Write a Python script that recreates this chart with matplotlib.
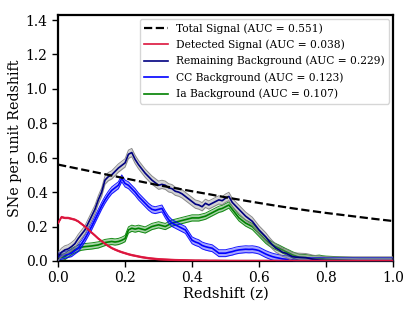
import numpy as np
import matplotlib
matplotlib.use('Agg')
import matplotlib.pyplot as plt

plt.rcParams['font.family'] = 'DejaVu Serif'

# redshift grid (step 0.01)
z = np.round(np.arange(0, 1.001, 0.01), 2)

# total signal read at 0.05 steps
z_total = np.round(np.arange(0, 1.001, 0.05), 2)
total = [0.56, 0.54, 0.52, 0.50, 0.48, 0.46, 0.44, 0.423, 0.405, 0.388, 0.37,
         0.353, 0.337, 0.321, 0.306, 0.292, 0.279, 0.267, 0.255, 0.243, 0.232]

detected = [0.22, 0.255, 0.25, 0.25, 0.245, 0.24, 0.23, 0.215, 0.20, 0.183,
            0.165, 0.148, 0.13, 0.115, 0.10, 0.087, 0.075, 0.066, 0.058, 0.051,
            0.045, 0.039, 0.034, 0.03, 0.026, 0.022, 0.019, 0.016, 0.014, 0.012,
            0.010, 0.009, 0.008, 0.007, 0.006, 0.005, 0.0045, 0.004, 0.0035, 0.003,
            0.0025, 0.002, 0.002, 0.0015, 0.0015, 0.001, 0.001, 0.001, 0.0008, 0.0006,
            0.0005]

remaining = [0.025, 0.05, 0.064, 0.07, 0.083, 0.10, 0.13, 0.155, 0.18, 0.22,
             0.26, 0.30, 0.355, 0.40, 0.47, 0.49, 0.50, 0.52, 0.54, 0.555,
             0.57, 0.62, 0.63, 0.59, 0.56, 0.535, 0.51, 0.49, 0.47, 0.455,
             0.44, 0.445, 0.44, 0.425, 0.42, 0.405, 0.40, 0.39, 0.375, 0.36,
             0.345, 0.33, 0.325, 0.315, 0.335, 0.325, 0.335, 0.345, 0.355, 0.35,
             0.365, 0.375, 0.34, 0.32, 0.30, 0.28, 0.26, 0.245, 0.23, 0.205,
             0.18, 0.16, 0.14, 0.115, 0.093, 0.075, 0.064, 0.05, 0.045, 0.035,
             0.025, 0.022, 0.021, 0.02, 0.019, 0.015, 0.01, 0.007, 0.005, 0.003]

cc = [0.025, 0.03, 0.035, 0.04, 0.045, 0.06, 0.074, 0.10, 0.13, 0.165,
      0.20, 0.24, 0.28, 0.32, 0.355, 0.385, 0.41, 0.425, 0.44, 0.48,
      0.45, 0.44, 0.42, 0.40, 0.375, 0.355, 0.335, 0.315, 0.30, 0.295,
      0.30, 0.305, 0.27, 0.24, 0.22, 0.21, 0.20, 0.19, 0.18, 0.15,
      0.12, 0.11, 0.103, 0.09, 0.083, 0.078, 0.074, 0.06, 0.045, 0.045,
      0.045, 0.05, 0.054, 0.06, 0.064, 0.066, 0.068, 0.067, 0.068, 0.065,
      0.06, 0.05, 0.04, 0.032, 0.025, 0.02, 0.016, 0.012, 0.01, 0.008,
      0.006, 0.003]

ia = [0.016, 0.02, 0.025, 0.04, 0.054, 0.065, 0.074, 0.08, 0.083, 0.085,
      0.087, 0.09, 0.093, 0.10, 0.107, 0.11, 0.113, 0.11, 0.113, 0.12,
      0.13, 0.18, 0.19, 0.185, 0.19, 0.185, 0.18, 0.19, 0.20, 0.205,
      0.21, 0.205, 0.20, 0.21, 0.22, 0.225, 0.23, 0.235, 0.24, 0.245,
      0.25, 0.25, 0.25, 0.255, 0.26, 0.27, 0.28, 0.29, 0.30, 0.305,
      0.315, 0.325, 0.30, 0.275, 0.25, 0.235, 0.22, 0.21, 0.20, 0.18,
      0.16, 0.14, 0.12, 0.105, 0.093, 0.083, 0.074, 0.064, 0.054, 0.045,
      0.035, 0.028, 0.021, 0.02, 0.019, 0.016, 0.013, 0.014, 0.016, 0.012,
      0.01, 0.009, 0.008, 0.007, 0.006, 0.005, 0.004, 0.003, 0.002, 0.001]

labels = ['Total Signal (AUC = 0.551)', 'Detected Signal (AUC = 0.038)',
          'Remaining Background (AUC = 0.229)', 'CC Background (AUC = 0.123)',
          'Ia Background (AUC = 0.107)']


def pad(vals):
    return np.array(vals + [0.0] * (len(z) - len(vals)))


fig = plt.figure(figsize=(4.15, 3.11), dpi=100)
ax = fig.add_axes([0.140, 0.161, 0.807, 0.791])


def band(y, err, line_col, band_col, label, zorder):
    y = pad(y)
    lo = np.clip(y - err, 0, None)
    hi = y + err
    ax.fill_between(z, lo, hi, color=band_col, alpha=0.35, lw=0, zorder=zorder)
    ax.plot(z, lo, color=band_col, lw=0.7, alpha=0.9, zorder=zorder)
    ax.plot(z, hi, color=band_col, lw=0.7, alpha=0.9, zorder=zorder)
    return ax.plot(z, y, color=line_col, lw=1.2, label=label, zorder=zorder + 0.5)[0]


h_tot, = ax.plot(z_total, total, 'k--', lw=1.6, label=labels[0], zorder=6)
h_det = band(detected, 0.004, 'crimson', 'crimson', labels[1], 5)
h_rem = band(remaining, 0.024, 'navy', 'gray', labels[2], 4)
h_cc = band(cc, 0.02, 'blue', 'blue', labels[3], 3)
h_ia = band(ia, 0.018, 'green', 'green', labels[4], 2)

ax.set_xlim(0, 1)
ax.set_ylim(0, 1.43)
ax.set_xticks(np.arange(0, 1.01, 0.2))
ax.set_yticks(np.arange(0, 1.41, 0.2))
ax.tick_params(labelsize=10, length=4, width=1)
for s in ax.spines.values():
    s.set_linewidth(1.6)
ax.set_xlabel('Redshift (z)', fontsize=10.5, labelpad=1)
ax.set_ylabel('SNe per unit Redshift', fontsize=10.3, labelpad=3)
ax.legend(handles=[h_tot, h_det, h_rem, h_cc, h_ia], loc='upper right',
          fontsize=7.7, handlelength=2.2, borderaxespad=0.35, labelspacing=0.55)

plt.savefig('out.png', dpi=100)
plt.close()
